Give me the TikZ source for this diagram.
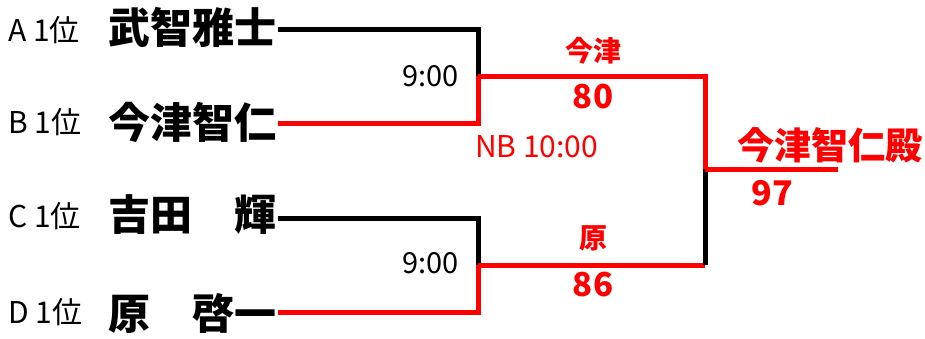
\documentclass[tikz,border=0pt]{standalone}
\usepackage{fontspec}
\setmainfont{Noto Sans CJK JP}
\usetikzlibrary{positioning}
\definecolor{winred}{RGB}{255,0,0}
\newcommand{\seedlabel}[1]{#1 1位}

\begin{document}
\begin{tikzpicture}[x = 1pt, y = -1pt, every node/.style = {inner sep = 0pt},
	seed/.style = {anchor = west, font = \fontsize{30}{30}\selectfont},
	player/.style = {anchor = west, font = \fontsize{42}{42}\selectfont\bfseries},
	kickoff/.style = {anchor = east, font = \fontsize{29}{29}\selectfont},
	result/.style = {text = winred, font = \fontsize{33}{33}\selectfont\bfseries},
	win/.style = {draw = winred, line width = 5pt},
	lose/.style = {draw = black, line width = 5pt}]

	\useasboundingbox (0,0) rectangle (925,338);

	\node (A) at (8, 30) [seed] {\seedlabel{A}};
	\node (B) at (8,122) [seed] {\seedlabel{B}};
	\node (C) at (8,216) [seed] {\seedlabel{C}};
	\node (D) at (8,312) [seed] {\seedlabel{D}};

	\node (nameA) at (108, 27) [player] {武智雅士};
	\node (nameB) at (108,122) [player] {今津智仁};
	\node (nameC) at (108,215) [player] {吉田　輝};
	\node (nameD) at (108,313) [player] {原　啓一};

	\coordinate (A0) at (278, 29);
	\coordinate (B0) at (278,123);
	\coordinate (C0) at (278,218);
	\coordinate (D0) at (278,312);
	\coordinate (AB) at (478, 76);
	\coordinate (CD) at (478,265);
	\coordinate (CDF) at (705,265);
	\coordinate (F)  at (705,169);
	\coordinate (W)  at (838,169);

	\draw [lose] (A0) -| (AB);
	\draw [win]  (B0) -| (AB);
	\draw [lose] (C0) -| (CD);
	\draw [win]  (D0) -| (CD);
	\draw [win]  (AB) -| (F);
	\draw [win]  (CD) -- (CDF);
	\draw [lose] (CDF) -- (F);
	\draw [win]  (F) -- (W);

	\node (timeAB) at (459, 76) [kickoff] {9:00};
	\node (timeCD) at (459,263) [kickoff] {9:00};

	\node (winAB)   at (593, 51) [result, font = \fontsize{28}{28}\selectfont\bfseries] {今津};
	\node (scoreAB) at (593, 97) [result] {80};
	\node (nb)      at (475,147) [result, anchor = west, font = \fontsize{30}{30}\selectfont] {NB 10:00};
	\node (winCD)   at (593,238) [result, font = \fontsize{28}{28}\selectfont\bfseries] {原};
	\node (scoreCD) at (593,285) [result] {86};
	\node (champ)   at (737,145) [result, anchor = west, font = \fontsize{37}{37}\selectfont\bfseries] {今津智仁殿};
	\node (final)   at (772,193) [result, font = \fontsize{34}{34}\selectfont\bfseries] {97};
\end{tikzpicture}
\end{document}
